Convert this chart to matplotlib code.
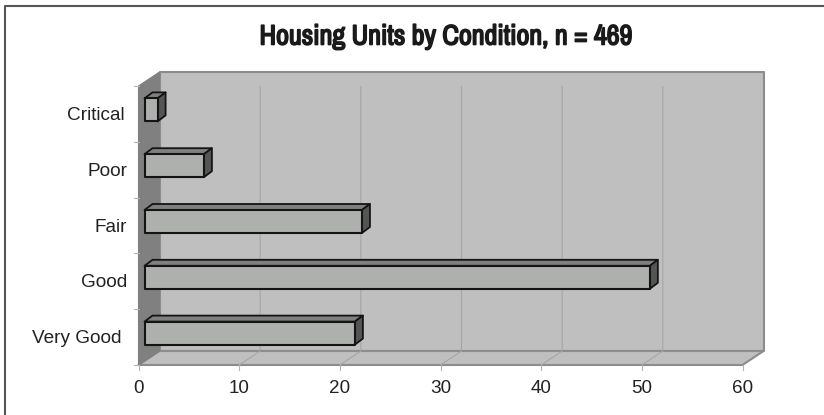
import matplotlib
matplotlib.use('Agg')
import matplotlib.pyplot as plt
import matplotlib.patches as patches
import matplotlib.patheffects as pe
from matplotlib.lines import Line2D

categories = ['Very Good', 'Good', 'Fair', 'Poor', 'Critical']
values = [20.9, 50.2, 21.6, 5.9, 1.3]
x_ticks = [0, 10, 20, 30, 40, 50, 60]

W, H = 824, 415
# pixel box of the front edge of the plot
left, right, top, bottom = 138.5, 742.5, 86, 365
# right end of each category label, in pixels (they are not aligned in the original)
label_right = [122, 127.5, 127.5, 127.5, 124.5]

fig = plt.figure(figsize=(W / 100, H / 100), dpi=100)
plt.rcParams['font.family'] = ['Liberation Sans', 'DejaVu Sans']
ax = fig.add_axes([left / W, 1 - bottom / H, (right - left) / W, (bottom - top) / H])
ax.set_xlim(0, 60)
ax.set_ylim(0, 5)
ax.axis('off')

# pixel lengths to data lengths
px_x = 60 / (right - left)
px_y = 5 / (bottom - top)
depth_x = 21 * px_x
depth_y = 14 * px_y


def poly(points, face, edge, lw, z):
    ax.add_patch(patches.Polygon(points, closed=True, facecolor=face, edgecolor=edge,
                                 linewidth=lw, zorder=z, clip_on=False, joinstyle='round'))


wall = '#bfbfbf'
wall_edge = '#8c8c8c'
grid = '#a6a6a6'
# back wall, floor, side wall
poly([(depth_x, depth_y), (60 + depth_x, depth_y), (60 + depth_x, 5 + depth_y), (depth_x, 5 + depth_y)],
     wall, wall_edge, 1.5, 1)
poly([(0, 0), (60, 0), (60 + depth_x, depth_y), (depth_x, depth_y)], wall, wall_edge, 1.5, 1)
poly([(0, 0), (depth_x, depth_y), (depth_x, 5 + depth_y), (0, 5)], '#808080', '#808080', 0.8, 2)

# gridlines on wall and floor
for t in x_ticks[1:-1]:
    ax.plot([t, t + depth_x, t + depth_x], [0, depth_y, 5 + depth_y], color=grid, lw=0.8, zorder=2)

# axis ticks and labels
for t in x_ticks:
    ax.plot([t, t], [0, -5 * px_y], color='#b4b4b4', lw=0.8, zorder=2, clip_on=False)
    ax.text(t, -23 * px_y, str(t), ha='center', va='center', fontsize=13.6, color='#222222')
for i in range(6):
    ax.plot([0, -5 * px_x], [i, i], color='#b4b4b4', lw=0.8, zorder=2, clip_on=False)
for i, c in enumerate(categories):
    ax.text((label_right[i] - left) * px_x, i + 0.5 - 1.5 * px_y, c, ha='right', va='center',
            fontsize=13.7, color='#222222')

# 3d bars
off_x = 6 * px_x
off_y = 4 * px_y
bar_h = 23 * px_y
dx = 8 * px_x
dy = 6 * px_y
for i, v in enumerate(values):
    x0 = off_x
    x1 = off_x + v
    y0 = i + 0.5 + off_y - bar_h / 2
    y1 = y0 + bar_h
    poly([(x0, y1), (x1, y1), (x1 + dx, y1 + dy), (x0 + dx, y1 + dy)], '#7f7f7f', '#141414', 1.3, 5)
    poly([(x1, y0), (x1 + dx, y0 + dy), (x1 + dx, y1 + dy), (x1, y1)], '#555555', '#141414', 1.3, 5)
    poly([(x0, y0), (x1, y0), (x1, y1), (x0, y1)], '#aeb0ae', '#141414', 1.5, 6)

# page frame, left and top only, and title
fig.add_artist(Line2D([5 / W, 5 / W, 1], [0, 1 - 6 / H, 1 - 6 / H], color='#555555', lw=1.5))
title = fig.text(445 / W, 1 - 37 / H, 'Housing Units by Condition, n = 469', ha='center', va='center',
                 fontsize=20.2, fontweight='bold', color='#1a1a1a', family=['Archivo Narrow', 'Liberation Sans'])
title.set_path_effects([pe.withStroke(linewidth=1.2, foreground='#1a1a1a')])

fig.savefig('out.png', dpi=100)
